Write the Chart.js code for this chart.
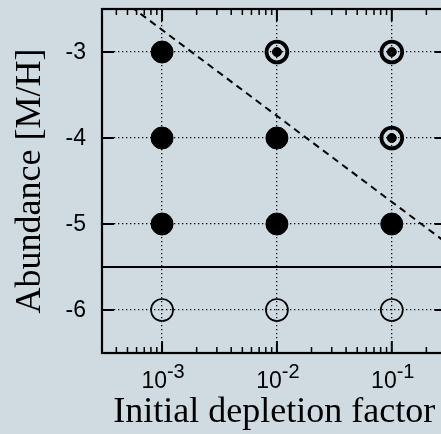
<!DOCTYPE html>
<html>
<head>
<meta charset="utf-8">
<script src="https://cdn.jsdelivr.net/npm/chart.js@4.4.1/dist/chart.umd.min.js"></script>
<style>
  html, body { margin: 0; padding: 0; background: #cfdbe0; }
  #wrap { width: 441px; height: 434px; overflow: hidden; position: relative; }
  canvas { display: block; }
</style>
</head>
<body>
<div id="wrap"><canvas id="myChart" width="460" height="434"></canvas></div>
<script>
// grid of models: initial depletion factor vs. abundance
const depletion = [1e-3, 1e-2, 1e-1];
const abundance = [-3, -4, -5, -6];
// outcome per abundance row, one entry per depletion factor
const outcome = [
  ["filled", "ring", "ring"],
  ["filled", "filled", "ring"],
  ["filled", "filled", "filled"],
  ["open", "open", "open"],
];
// dashed boundary and solid threshold
const boundaryX = [3e-4, 0.3];
const boundaryY = [-2.22, -5.22];
const thresholdX = [3e-4, 0.3];
const thresholdY = [-5.5, -5.5];
// axis tick labels
const xTickBase = "10";
const xTickExp = ["-3", "-2", "-1"];
const yTicks = [-3, -4, -5, -6];
const yTickLabels = ["-3", "-4", "-5", "-6"];

Chart.defaults.font.family = "'Liberation Sans', Arial, sans-serif";
Chart.defaults.color = "#000";

function pointsFor(kind) {
  const pts = [];
  abundance.forEach((a, i) => {
    depletion.forEach((d, j) => {
      if (outcome[i][j] === kind) pts.push({ x: d, y: a });
    });
  });
  return pts;
}

// frame, inward ticks and tick labels
const framePlugin = {
  id: "frame",
  afterDatasetsDraw(chart) {
    const { ctx, chartArea: a, scales } = chart;
    const xs = scales.x, ys = scales.y;
    ctx.save();
    ctx.strokeStyle = "#000";
    ctx.lineCap = "butt";

    // minor x ticks
    ctx.lineWidth = 1.5;
    for (let e = -4; e <= -1; e++) {
      for (let m = 2; m <= 9; m++) {
        const v = m * Math.pow(10, e);
        if (v < xs.min || v > xs.max) continue;
        const px = xs.getPixelForValue(v);
        ctx.beginPath();
        ctx.moveTo(px, a.bottom); ctx.lineTo(px, a.bottom - 6);
        ctx.moveTo(px, a.top); ctx.lineTo(px, a.top + 6);
        ctx.stroke();
      }
    }
    // major ticks
    ctx.lineWidth = 2;
    depletion.forEach(v => {
      const px = xs.getPixelForValue(v);
      ctx.beginPath();
      ctx.moveTo(px, a.bottom); ctx.lineTo(px, a.bottom - 12);
      ctx.moveTo(px, a.top); ctx.lineTo(px, a.top + 12);
      ctx.stroke();
    });
    yTicks.forEach(v => {
      const py = ys.getPixelForValue(v);
      ctx.beginPath();
      ctx.moveTo(a.left, py); ctx.lineTo(a.left + 12, py);
      ctx.moveTo(a.right, py); ctx.lineTo(a.right - 12, py);
      ctx.stroke();
    });
    // frame
    ctx.lineWidth = 2.2;
    ctx.strokeRect(a.left, a.top, a.right - a.left, a.bottom - a.top);

    ctx.fillStyle = "#000";
    // y tick labels
    ctx.font = "23px 'Liberation Sans', Arial, sans-serif";
    ctx.textAlign = "right";
    ctx.textBaseline = "middle";
    yTicks.forEach((v, i) => {
      ctx.fillText(yTickLabels[i], a.left - 16, ys.getPixelForValue(v) + 1);
    });

    // x tick labels with superscript exponent
    ctx.textBaseline = "alphabetic";
    ctx.textAlign = "left";
    const baseFont = "23px 'Liberation Sans', Arial, sans-serif";
    const expFont = "20px 'Liberation Sans', Arial, sans-serif";
    depletion.forEach((v, i) => {
      const px = xs.getPixelForValue(v);
      ctx.font = baseFont;
      const wb = ctx.measureText(xTickBase).width;
      ctx.font = expFont;
      const we = ctx.measureText(xTickExp[i]).width;
      const x0 = px - (wb + we) / 2 + 1;
      ctx.font = baseFont;
      ctx.fillText(xTickBase, x0, a.bottom + 35);
      ctx.font = expFont;
      ctx.fillText(xTickExp[i], x0 + wb, a.bottom + 25);
    });
    ctx.restore();
  },
};

new Chart("myChart", {
  type: "scatter",
  data: {
    datasets: [
      {
        type: "line",
        data: boundaryX.map((x, i) => ({ x, y: boundaryY[i] })),
        borderColor: "#000",
        borderWidth: 2,
        borderDash: [7, 5],
        pointRadius: 0,
        fill: false,
        order: 5,
      },
      {
        type: "line",
        data: thresholdX.map((x, i) => ({ x, y: thresholdY[i] })),
        borderColor: "#000",
        borderWidth: 1.8,
        pointRadius: 0,
        fill: false,
        order: 5,
      },
      {
        data: pointsFor("filled"),
        pointRadius: 11,
        pointBackgroundColor: "#000",
        pointBorderColor: "#000",
        pointBorderWidth: 1,
        order: 1,
      },
      {
        data: pointsFor("open"),
        pointRadius: 11,
        pointBackgroundColor: "rgba(0,0,0,0)",
        pointBorderColor: "#000",
        pointBorderWidth: 1.7,
        order: 1,
      },
      {
        data: pointsFor("ring"),
        pointRadius: 10.4,
        pointBackgroundColor: "rgba(0,0,0,0)",
        pointBorderColor: "#000",
        pointBorderWidth: 3.8,
        order: 1,
      },
      {
        data: pointsFor("ring"),
        pointRadius: 4.5,
        pointBackgroundColor: "#000",
        pointBorderColor: "#000",
        pointBorderWidth: 1,
        order: 1,
      },
    ],
  },
  options: {
    responsive: false,
    animation: false,
    events: [],
    layout: { autoPadding: false, padding: { top: 9, right: 13.4, left: 0, bottom: 0 } },
    plugins: { legend: { display: false }, tooltip: { enabled: false } },
    scales: {
      x: {
        type: "logarithmic",
        min: 3e-4,
        max: 0.3,
        afterBuildTicks: (s) => { s.ticks = depletion.map(v => ({ value: v })); },
        afterFit: (s) => { s.height = 81; },
        ticks: { display: false },
        grid: { color: "#000", lineWidth: 1.3, drawTicks: false },
        border: { display: false, dash: [1.3, 2.7] },
        title: {
          display: true,
          text: "Initial depletion factor",
          font: { family: "'Liberation Serif', 'Times New Roman', serif", size: 36 },
          color: "#000",
          padding: { top: 0, bottom: 0 },
        },
      },
      y: {
        min: -6.5,
        max: -2.5,
        afterBuildTicks: (s) => { s.ticks = yTicks.map(v => ({ value: v })); },
        afterFit: (s) => { s.width = 102; },
        ticks: { display: false },
        grid: { color: "#000", lineWidth: 1.3, drawTicks: false },
        border: { display: false, dash: [1.3, 2.7] },
        title: {
          display: true,
          text: "Abundance [M/H]",
          font: { family: "'Liberation Serif', 'Times New Roman', serif", size: 36 },
          color: "#000",
          padding: { top: 9, bottom: 0 },
        },
      },
    },
  },
  plugins: [framePlugin],
});
</script>
</body>
</html>
